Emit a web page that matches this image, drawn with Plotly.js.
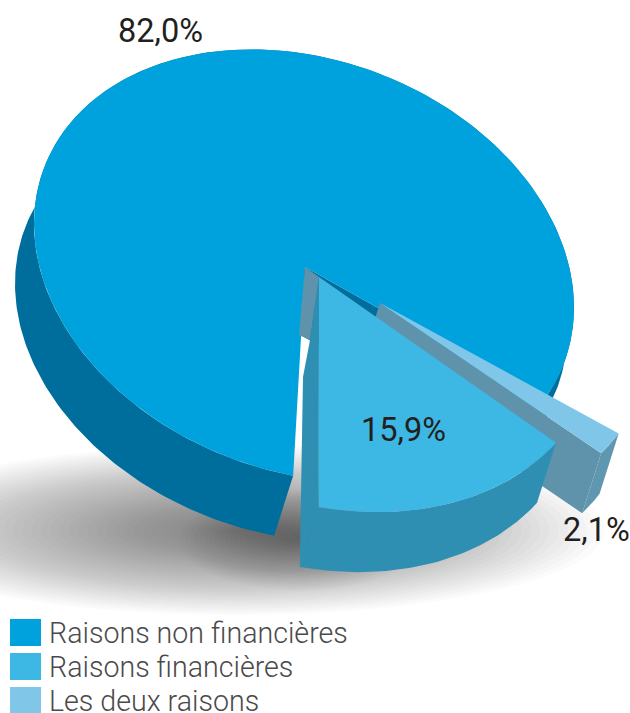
<!DOCTYPE html>
<html>
<head>
<meta charset="utf-8">
<script src="https://cdn.plot.ly/plotly-3.0.1.min.js"></script>
<style>html,body{margin:0;padding:0;background:#fff}#c{width:630px;height:713px}</style>
</head>
<body>
<div id="c"></div>
<script>
const categories = ["Raisons non financières", "Raisons financières", "Les deux raisons"];
const values = [82.0, 15.9, 2.1];
const topColors = ["#00a2de", "#3db7e4", "#7fc6e8"];
const sideColors = ["#006e9c", "#2e8fb3", "#5f93ab"];

const DEPTH = [-19, 60];
const total = values.reduce((a, b) => a + b, 0);
const sweep = values.map(v => v / total * 360);
const rng = {
  main:   [92.3, 92.3 + sweep[0]],
  third:  [26.2, 26.2 + sweep[2]],
  second: [32.8, 32.8 + sweep[1]]
};
const geo = {
  main:   {c: [304, 265.5], apex: [305, 267], W: 270, S: 42, H: 212},
  second: {c: [319, 277], apex: [319, 277], W: 282, S: 49, H: 230},
  third:  {c: [380, 303], apex: [380, 303], W: 266, S: 47, H: 200}
};
function pt(g, deg) {
  const t = deg * Math.PI / 180;
  return [g.c[0] + g.W * Math.cos(t), g.c[1] + g.S * Math.cos(t) + g.H * Math.sin(t)];
}
function arc(g, a, b) {
  const out = [], n = Math.max(2, Math.ceil(Math.abs(b - a)));
  for (let i = 0; i <= n; i++) out.push(pt(g, a + (b - a) * i / n));
  return out;
}
const shift = (p, d, k = 1) => [p[0] + d[0] * k, p[1] + d[1] * k];

const traces = [];
function poly(points, color, name) {
  const closed = points.concat([points[0]]);
  traces.push({
    type: "scatter", mode: "lines", fill: "toself", fillcolor: color,
    x: closed.map(p => p[0]), y: closed.map(p => p[1]),
    line: {width: 0, color: color},
    name: name || "", hoverinfo: name ? "name" : "skip", hoveron: "fills", showlegend: false
  });
}

// main slice (index 0)
const mainArc = arc(geo.main, rng.main[0], rng.main[1]);
poly(mainArc.concat(mainArc.map(p => shift(p, DEPTH)).reverse()), sideColors[0]);
const tailArc = arc(geo.main, rng.main[1] - 12, rng.main[1]);
poly(tailArc.concat(tailArc.map((p, i) => shift(p, [8, 0], i / (tailArc.length - 1))).reverse()), sideColors[0]);
const mEnd = mainArc[mainArc.length - 1];
poly([geo.main.apex, mEnd, shift(mEnd, DEPTH), shift(geo.main.apex, DEPTH)], sideColors[0]);
poly([geo.main.apex].concat(mainArc), topColors[0], categories[0]);

// third slice (index 2)
const thirdArc = arc(geo.third, rng.third[0], rng.third[1]);
const tEnd = thirdArc[thirdArc.length - 1];
poly([geo.third.apex, tEnd, shift(tEnd, DEPTH), shift(geo.third.apex, DEPTH)], sideColors[2]);
poly(thirdArc.concat(thirdArc.map(p => shift(p, DEPTH)).reverse()), "#5f97b0");
poly([geo.third.apex].concat(thirdArc), topColors[2], categories[2]);

// second slice (index 1)
const secondArc = arc(geo.second, rng.second[0], rng.second[1]);
const sEnd = secondArc[secondArc.length - 1];
const sa = geo.second.apex;
poly([sa, shift(sa, [-9, 63]), shift(sa, [-16, 100]), shift(sEnd, DEPTH), sEnd], sideColors[1]);
poly([geo.main.apex, sa, shift(sa, [-9, 63]), shift(sa, [-20, 58])], sideColors[2]);
poly(secondArc.concat(secondArc.map(p => shift(p, DEPTH)).reverse()), sideColors[1]);
poly([sa].concat(secondArc), topColors[1], categories[1]);

// soft ground shadow
const shapes = [];
function blur(cx, cy, rx, ry, n, op) {
  for (let i = 1; i <= n; i++) {
    const k = i / n;
    shapes.push({type: "circle", layer: "below", xref: "x", yref: "y",
      x0: cx - rx * k, x1: cx + rx * k, y0: cy - ry * k, y1: cy + ry * k,
      fillcolor: "#1a1a1e", opacity: op, line: {width: 0}});
  }
}
blur(235, 530, 370, 85, 40, 0.02);
blur(300, 540, 120, 50, 24, 0.02);

// legend swatches and text
const annotations = [];
const swatchX = [10, 41], legendTop = [619, 653, 687], swatchH = 27;
categories.forEach((c, i) => {
  shapes.push({type: "rect", layer: "above", xref: "x", yref: "y",
    x0: swatchX[0], x1: swatchX[1], y0: legendTop[i], y1: legendTop[i] + swatchH,
    fillcolor: topColors[i], line: {width: 0}});
  annotations.push({x: 47, y: legendTop[i] + swatchH / 2 + 0.5, xref: "x", yref: "y",
    text: c, showarrow: false, xanchor: "left", yanchor: "middle",
    font: {family: "Roboto, sans-serif", size: 28.6, color: "#4a4a4c", weight: 300}});
});
const labelPos = [[160, 31], [403, 430], [596, 530]];
values.forEach((v, i) => {
  annotations.push({x: labelPos[i][0], y: labelPos[i][1], xref: "x", yref: "y",
    text: v.toFixed(1).replace(".", ",") + "%", showarrow: false,
    xanchor: "center", yanchor: "middle",
    font: {family: "Roboto, sans-serif", size: 32.5, color: "#231f20"}});
});

const layout = {
  width: 630, height: 713,
  margin: {l: 0, r: 0, t: 0, b: 0},
  paper_bgcolor: "#ffffff", plot_bgcolor: "#ffffff",
  showlegend: false,
  xaxis: {range: [0, 630], visible: false, fixedrange: true},
  yaxis: {range: [713, 0], visible: false, fixedrange: true},
  shapes: shapes, annotations: annotations
};
Plotly.newPlot("c", traces, layout, {displayModeBar: false});
</script>
</body>
</html>
